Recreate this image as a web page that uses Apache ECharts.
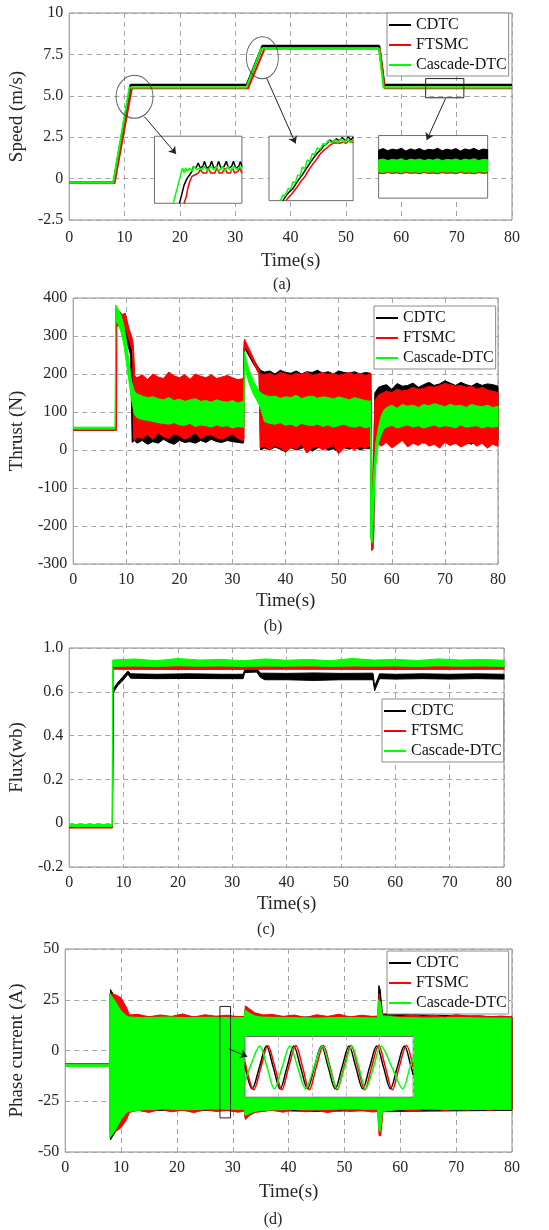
<!DOCTYPE html>
<html><head><meta charset="utf-8">
<script src="https://cdn.jsdelivr.net/npm/echarts@6/dist/echarts.min.js"></script>
<style>html,body{margin:0;padding:0;background:#fff}#c{width:549px;height:1230px}</style>
</head><body><div id="c"></div>
<script>
// ---------------- DATA ----------------
const seriesNames = ['CDTC', 'FTSMC', 'Cascade-DTC'];
const timeTicks = [0, 10, 20, 30, 40, 50, 60, 70, 80];

// (a) speed
const speedTicks = [-2.5, 0, 2.5, 5, 7.5, 10];
const speedTickLabels = ['-2.5', '0', '2.5', '5.0', '7.5', '10'];
const speedT_CDTC = [0, 8.05, 11.1, 32.1, 34.9, 56.0, 56.9, 80];
const speedV_CDTC = [-0.25, -0.25, 5.65, 5.65, 8.0, 8.0, 5.65, 5.65];
const speedT_FTSMC = [0, 8.2, 11.3, 32.3, 35.3, 56.1, 57.0, 80];
const speedV_FTSMC = [-0.26, -0.26, 5.45, 5.45, 7.85, 7.85, 5.45, 5.45];
const speedT_CASC = [0, 7.95, 10.9, 32.0, 34.7, 56.0, 56.8, 80];
const speedV_CASC = [-0.25, -0.25, 5.5, 5.5, 7.85, 7.85, 5.5, 5.5];

// (a) zoom 1 (around t = 11 s)
const in1T_CDTC = [10.80,10.87,10.95,11.05,11.13,11.20,11.25,11.33,11.40,11.47,11.55,11.60,11.67,11.77,11.83,11.90,12.00,12.05,12.13,12.23,12.30,12.37,12.47,12.53,12.60,12.70,12.75,12.80];
const in1V_CDTC = [5.30,5.35,5.41,5.45,5.47,5.49,5.52,5.51,5.54,5.51,5.52,5.55,5.51,5.52,5.55,5.51,5.52,5.55,5.51,5.52,5.55,5.51,5.52,5.55,5.51,5.52,5.55,5.52];
const in1T_FTSMC = [10.95,11.02,11.07,11.13,11.20,11.30,11.40,11.47,11.55,11.67,11.73,11.80,11.93,12.00,12.07,12.17,12.25,12.33,12.43,12.50,12.57,12.67,12.73,12.80];
const in1V_FTSMC = [5.30,5.34,5.39,5.43,5.46,5.47,5.48,5.50,5.48,5.48,5.51,5.48,5.48,5.51,5.48,5.48,5.51,5.48,5.48,5.51,5.48,5.49,5.51,5.48];
const in1T_CASC = [10.60,10.67,10.73,10.80,10.85,10.90,10.95,11.00,11.05,11.13,11.20,11.27,11.35,11.45,11.53,11.60,11.70,11.80,11.90,11.98,12.07,12.17,12.25,12.35,12.45,12.55,12.65,12.73,12.80];
const in1V_CASC = [5.30,5.35,5.39,5.44,5.48,5.51,5.48,5.51,5.49,5.51,5.49,5.52,5.50,5.51,5.50,5.52,5.49,5.52,5.50,5.52,5.49,5.52,5.49,5.52,5.49,5.52,5.50,5.52,5.50];

// (a) zoom 2 (around t = 35 s)
const in2T_CDTC = [34.33,34.42,34.49,34.57,34.64,34.71,34.79,34.86,34.93,35.01,35.08,35.15,35.23,35.30,35.38,35.45,35.52,35.60,35.67,35.74,35.82,35.88,35.95,36.00];
const in2V_CDTC = [7.00,7.09,7.14,7.19,7.26,7.33,7.40,7.47,7.54,7.62,7.68,7.74,7.79,7.85,7.89,7.94,7.91,7.96,7.93,7.98,7.93,7.99,7.94,7.99];
const in2T_FTSMC = [34.40,34.48,34.55,34.63,34.70,34.77,34.85,34.92,34.99,35.07,35.14,35.21,35.30,35.38,35.45,35.52,35.61,35.68,35.76,35.83,35.90,36.00];
const in2V_FTSMC = [7.00,7.06,7.11,7.18,7.24,7.31,7.37,7.45,7.52,7.59,7.65,7.72,7.78,7.82,7.86,7.89,7.90,7.89,7.91,7.89,7.93,7.90];
const in2T_CASC = [34.27,34.33,34.38,34.46,34.51,34.57,34.63,34.68,34.74,34.79,34.85,34.91,34.97,35.03,35.08,35.15,35.21,35.29,35.34,35.41,35.49,35.56,35.63,35.71,35.78,35.85,35.93,36.00];
const in2V_CASC = [7.00,7.09,7.07,7.19,7.17,7.29,7.28,7.40,7.38,7.52,7.49,7.63,7.61,7.73,7.71,7.82,7.79,7.89,7.86,7.94,7.89,7.95,7.90,7.96,7.90,7.96,7.90,7.94];

// (a) zoom 3 (t = 63..69 s), envelopes of the ripple
const in3T = [63,63.25,63.5,63.75,64,64.25,64.5,64.75,65,65.25,65.5,65.75,66,66.25,66.5,66.75,67,67.25,67.5,67.75,68,68.25,68.5,68.75,69];
const in3Hi_CDTC = [5.76,5.775,5.755,5.77,5.762,5.778,5.752,5.772,5.76,5.776,5.755,5.768,5.762,5.778,5.754,5.77,5.76,5.775,5.752,5.772,5.762,5.778,5.756,5.77,5.765];
const in3Lo_CDTC = [5.63,5.622,5.635,5.626,5.632,5.62,5.636,5.625,5.63,5.622,5.634,5.626,5.63,5.62,5.635,5.624,5.632,5.622,5.636,5.626,5.63,5.62,5.634,5.625,5.632];
const in3Hi_FTSMC = [5.6,5.6,5.6,5.6,5.6,5.6,5.6,5.6,5.6,5.6,5.6,5.6,5.6,5.6,5.6,5.6,5.6,5.6,5.6,5.6,5.6,5.6,5.6,5.6,5.6];
const in3Lo_FTSMC = [5.54,5.534,5.545,5.536,5.542,5.533,5.546,5.537,5.541,5.534,5.545,5.536,5.54,5.533,5.544,5.537,5.542,5.534,5.546,5.536,5.54,5.533,5.544,5.537,5.541];
const in3Hi_CASC = [5.668,5.675,5.66,5.672,5.665,5.678,5.658,5.674,5.666,5.676,5.66,5.672,5.664,5.678,5.658,5.672,5.666,5.676,5.66,5.674,5.665,5.678,5.66,5.672,5.668];
const in3Lo_CASC = [5.552,5.546,5.556,5.548,5.554,5.545,5.557,5.549,5.553,5.546,5.556,5.548,5.552,5.545,5.556,5.549,5.554,5.546,5.557,5.548,5.552,5.545,5.555,5.549,5.553];

// (b) thrust envelopes
const thrustT_CDTC = [0,7.95,8.0,9.0,10.0,10.8,11.1,11.5, 12,13,14,15,16,17,18,19,20,21,22,23,24,25,26,27,28,29,30,31,32, 32.1,32.2,33,34,35,35.3, 36,37,38,39,40,41,42,43,44,45,46,47,48,49,50,51,52,53,54,55,56, 56.05,56.3,56.6,56.8,57.5, 58,59,60,61,62,63,64,65,66,67,68,69,70,71,72,73,74,75,76,77,78,79,80];
const thrustLo_CDTC = [52,52,330,325,290,250,20,25, 18,25,15,22,18,28,20,15,25,20,22,18,25,20,28,22,20,25,22,20,18, 20,270,250,225,205,0, 5,0,8,2,-5,6,0,4,10,-3,5,8,0,3,-5,6,2,8,0,5,3, -220,-230,-220,20,20, 18,25,15,22,28,12,20,25,18,22,15,28,20,25,18,22,20,15,25,18,22,20,25];
const thrustHi_CDTC = [56,56,372,360,335,300,240,185, 180,175,185,178,182,176,184,180,178,186,180,176,182,184,180,185,182,188,180,184,182, 180,285,262,236,215,210, 205,208,200,210,204,202,208,200,206,204,210,202,206,200,208,204,202,206,200,204,202, 200,-150,-60,150,165, 168,172,160,175,168,170,176,165,172,178,170,174,182,176,170,178,172,168,176,170,174,172,168];
const thrustT_FTSMC = [0,8.15,8.2,9.0,9.8,10.5,11.2,11.35,11.6, 12,13,14,15,16,17,18,19,20,21,22,23,24,25,26,27,28,29,30,31,32, 32.15,32.25,33,34,35,35.2, 36,37,38,39,40,41,42,43,44,45,46,47,48,49,50,51,52,53,54,55,56, 56.05,56.2,56.5,56.8,57.5, 58,59,60,61,62,63,64,65,66,67,68,69,70,71,72,73,74,75,76,77,78,79,80];
const thrustLo_FTSMC = [52,52,325,330,320,290,260,30,25, 35,30,40,28,45,35,30,42,38,28,35,45,30,38,40,32,28,35,42,30,25, 30,275,258,228,198,5, 10,0,12,5,-5,8,2,15,-8,5,10,0,6,12,-10,5,8,0,10,4,12, -200,-265,-260,10,15, 10,20,5,15,25,8,18,12,22,10,15,5,20,12,18,8,15,22,10,18,5,15,10];
const thrustHi_FTSMC = [56,56,345,355,360,320,290,270,195, 190,198,185,200,192,188,205,195,190,198,186,200,194,190,198,188,192,196,190,185,188, 188,292,270,240,210,200, 198,202,195,204,200,196,202,198,205,196,200,204,198,202,196,200,204,198,202,196,200, 198,-150,-40,130,145, 148,155,150,160,155,158,165,160,162,168,165,170,175,172,168,170,165,168,160,165,158,155,150];
const thrustT_CASC = [0,7.9,8.0,8.5,9.0,9.5,10.0,10.5,11.0,11.5, 12,13,14,15,16,17,18,19,20,21,22,23,24,25,26,27,28,29,30,31,32, 32.15,32.25,33,34,35,35.5, 36,37,38,39,40,41,42,43,44,45,46,47,48,49,50,51,52,53,54,55,56, 56.0,56.3,56.6,57.0,57.5,58,58.5, 59,60,61,62,63,64,65,66,67,68,69,70,71,72,73,74,75,76,77,78,79,80];
const thrustLo_CASC = [55,55,340,330,310,280,230,180,130,95, 85,80,78,75,72,70,68,72,66,65,70,62,66,64,60,66,62,64,58,62,60, 60,225,180,145,120,100, 75,70,68,72,65,68,62,70,66,64,68,62,66,60,64,68,62,60,64,58,62, -230,-245,-150,-40,20,40,55, 60,65,58,62,66,60,64,58,62,66,60,64,62,58,66,60,62,64,58,62,60,62];
const thrustHi_CASC = [60,60,382,370,355,330,290,230,180,155, 148,142,138,140,135,132,138,130,134,128,132,135,128,130,126,132,128,126,130,124,128, 126,258,215,180,155,148, 145,140,142,136,140,138,144,135,140,142,136,140,138,134,140,136,132,138,134,130,128, 130,-130,-60,20,60,90,105, 112,118,110,120,115,118,112,120,116,122,118,114,120,116,118,112,120,116,114,118,112,115];

// (c) flux envelopes (tick labels as printed in the figure)
const fluxTicks = [-0.2, 0, 0.2, 0.4, 0.6, 0.8];
const fluxTickLabels = ['-0.2', '0', '0.2', '0.4', '0.6', '1.0'];
const fluxT_CDTC = [0,7.95,8.1,8.5,9,10,10.8,11.3,16,22,28,32,32.3,34.5,35.2,36,40,45,50,55.9,56.2,56.6,57.1,60,65,70,75,80];
const fluxLo_CDTC = [-0.02,-0.02,0.595,0.612,0.63,0.655,0.68,0.662,0.66,0.661,0.66,0.66,0.688,0.69,0.665,0.655,0.655,0.652,0.655,0.655,0.605,0.63,0.66,0.658,0.66,0.658,0.66,0.658];
const fluxHi_CDTC = [-0.012,-0.012,0.61,0.628,0.645,0.672,0.695,0.682,0.68,0.682,0.68,0.68,0.702,0.706,0.685,0.685,0.684,0.686,0.684,0.685,0.625,0.65,0.682,0.68,0.682,0.68,0.682,0.68];
const fluxT_FTSMC = [0,7.95,8.05,20,40,60,80];
const fluxLo_FTSMC = [-0.022,-0.022,0.703,0.702,0.703,0.702,0.703];
const fluxHi_FTSMC = [-0.012,-0.012,0.716,0.718,0.716,0.718,0.716];
const fluxT_CASC = [0,7.9,8.0,12,16,20,24,28,32,36,40,44,48,52,56,60,64,68,72,76,80];
const fluxLo_CASC = [-0.015,-0.015,0.716,0.718,0.716,0.719,0.717,0.718,0.716,0.718,0.717,0.719,0.716,0.718,0.717,0.718,0.716,0.719,0.717,0.718,0.716];
const fluxHi_CASC = [-0.006,-0.006,0.745,0.75,0.742,0.752,0.745,0.748,0.742,0.75,0.744,0.748,0.742,0.752,0.745,0.748,0.743,0.75,0.745,0.748,0.744];

// (d) phase current envelopes
const curT_CDTC = [0,8.0,8.1,9,10,11,11.5,20,32.1,32.2,34,35,45,56.0,56.15,56.4,56.8,80];
const curLo_CDTC = [-7.5,-7.5,-44,-40,-35,-31,-29.5,-29.5,-29.5,-33,-30,-29.5,-30,-29.5,-36,-38,-30,-29.5];
const curHi_CDTC = [-6.6,-6.6,30,26,21,17.5,16.5,16.5,16.5,20,17.5,16.5,16.5,16.5,32,30,18,16.5];
const curT_FTSMC = [0,7.95,8.0,9,10,11,11.5, 13,15,17,19,21,23,25,27,29,31, 32.1,32.25,33,34,35.5, 37,39,41,43,45,47,49,51,53,55, 56.0,56.2,56.5,56.9, 58,60,62,64,66,68,70,72,74,76,78,80];
const curLo_FTSMC = [-7.5,-7.5,-41,-40,-38,-34,-30.5, -29.5,-30.5,-29,-30.2,-29.4,-30.6,-29.2,-30,-29.6,-30.4, -29.8,-34,-32,-30.5,-30, -29.4,-30.4,-29,-30.2,-29.5,-30.6,-29.2,-30,-29.6,-30.3, -30,-42,-42,-30, -29.5,-29,-30,-29.2,-28.8,-29.6,-29,-29.4,-28.8,-29.5,-29,-29];
const curHi_FTSMC = [-6.5,-6.5,28,27.5,26,21,17.5, 17.8,16.6,17.5,16.8,18,16.5,17.6,16.9,17.4,16.6, 16.8,22,20.5,18.5,17.5, 17.8,16.8,17.5,16.2,17.6,16.8,17.9,16.5,17.4,16.8, 17,28,22,17.5, 17.2,16.6,17.6,16.8,17.4,16.5,17.8,16.9,17.2,16.6,17,16.5];
const curT_CASC = [0,7.9,8.0,8.5,9,10,11,11.5, 14,18,22,26,30, 32.1,32.2,33,34,35, 40,45,50,55.9, 56.1,56.4,56.8, 60,65,70,75,79.8];
const curLo_CASC = [-7.8,-7.8,-43,-41,-39,-34,-30.5,-30, -29.2,-28.8,-29.2,-28.8,-29, -29,-32,-31,-30,-29.5, -29,-29.2,-28.8,-29, -38,-40,-30, -29,-28.8,-29.2,-29,-29];
const curHi_CASC = [-6.8,-6.8,28,26,24,19.5,17,16.5, 16.2,16.5,16.2,16.4,16.2, 16.2,20,18.5,17,16.5, 16.2,16,16.3,16, 25,24,17, 16.2,16,16.3,16,16];

// (d) zoom of the current waveform (t = 27.9..29.4 s)
const in4T_CDTC = [27.900,27.964,28.028,28.091,28.152,28.213,28.274,28.335,28.396,28.457,28.518,28.582,28.643,28.704,28.765,28.828,28.889,28.950,29.011,29.075,29.136,29.197,29.258,29.322,29.383,29.400];
const in4V_CDTC = [-5,-27,-7,13,-7,-27,-7,13,-7,-27,-7,13,-7,-27,-7,13,-7,-27,-7,13,-7,-27,-7,13,-7,-14];
const in4T_FTSMC = [27.900,27.978,28.042,28.103,28.167,28.228,28.289,28.353,28.414,28.474,28.535,28.599,28.660,28.721,28.782,28.846,28.907,28.968,29.029,29.092,29.153,29.214,29.275,29.339,29.400];
const in4V_FTSMC = [-2,-28,-7,13.5,-7,-28,-7,13.5,-7,-28,-7,13.5,-7,-28,-7,13.5,-7,-28,-7,13.5,-7,-28,-7,13.5,-7];
const in4T_CASC = [27.900,27.958,28.031,28.097,28.161,28.231,28.300,28.370,28.440,28.515,28.588,28.654,28.721,28.788,28.852,28.916,28.976,29.046,29.113,29.211,29.307,29.371,29.400];
const in4V_CASC = [-20,-3,13,-7,-27,-7,13,-7,-27,-7,13,-7,-27,-7,13,-7,-27,-7,13,-7,-27,-7,2];

// ---------------- STYLE / LAYOUT ----------------
const COLORS = ['#000000', '#ff0000', '#00ff00'];
const FONT = "'Liberation Serif','Times New Roman',serif";
const TXT = '#262626';
const FRAME = '#8c8c8c';

const zip = (T, V) => T.map((t, i) => [t, V[i]]);

function band(name, color, T, LO, HI, idx, z) {
  const pts = T.map((t, i) => [t, LO[i], HI[i]]);
  return {
    type: 'custom', name: name, xAxisIndex: idx, yAxisIndex: idx, z: z, clip: true, silent: true,
    itemStyle: { color: color }, encode: { x: 0, y: [1, 2] }, data: pts,
    renderItem: function (params, api) {
      if (params.dataIndex !== 0) return null;
      const up = pts.map(p => api.coord([p[0], p[2]]));
      const lo = pts.map(p => api.coord([p[0], p[1]])).reverse();
      return { type: 'polygon', shape: { points: up.concat(lo) },
               style: { fill: color, stroke: color, lineWidth: 1 } };
    }
  };
}
function line(name, color, T, V, idx, z, w, smooth) {
  return { type: 'line', name: name, xAxisIndex: idx, yAxisIndex: idx, z: z, data: zip(T, V),
           showSymbol: false, symbol: 'none', smooth: smooth || false, clip: true, silent: true,
           lineStyle: { color: color, width: w }, itemStyle: { color: color } };
}
function mainGrid(l, t, w, h) {
  return { left: l, top: t, width: w, height: h, show: true, borderColor: FRAME, borderWidth: 1,
           backgroundColor: 'transparent', z: 0 };
}
function insetGrid() {
  return { left: 0, top: 0, width: 10, height: 10, show: true, borderColor: '#6e6e6e', borderWidth: 1,
           backgroundColor: '#ffffff', z: 5 };
}
const dash = { show: true, lineStyle: { type: [5, 4], color: '#a6a6a6', width: 1 } };
function lookupFmt(ticks, labels) {
  return v => { const i = ticks.findIndex(x => Math.abs(x - v) < 1e-6); return i >= 0 ? labels[i] : ''; };
}
function mainX(gi, margin, gap) {
  return { type: 'value', gridIndex: gi, min: timeTicks[0], max: timeTicks[timeTicks.length - 1], interval: 10, z: 1,
           axisLine: { show: false }, axisTick: { show: false }, splitLine: dash,
           axisLabel: { fontFamily: FONT, fontSize: 16, color: TXT, margin: margin, showMinLabel: true, showMaxLabel: true },
           name: 'Time(s)', nameLocation: 'middle', nameGap: gap,
           nameTextStyle: { fontFamily: FONT, fontSize: 19, color: TXT } };
}
function mainY(gi, min, max, step, name, gap, fmt) {
  return { type: 'value', gridIndex: gi, min: min, max: max, interval: step, z: 1,
           axisLine: { show: false }, axisTick: { show: false }, splitLine: dash,
           axisLabel: { fontFamily: FONT, fontSize: 16, color: TXT, margin: 6, formatter: fmt, showMinLabel: true, showMaxLabel: true },
           name: name, nameLocation: 'middle', nameGap: gap, nameRotate: 90,
           nameTextStyle: { fontFamily: FONT, fontSize: 19, color: TXT } };
}
function insetAxis(gi, min, max, split, interval) {
  const a = { type: 'value', gridIndex: gi, min: min, max: max, z: 6, axisLine: { show: false },
              axisTick: { show: false }, axisLabel: { show: false }, splitLine: { show: false } };
  if (split) { a.interval = interval; a.splitLine = { show: true, lineStyle: { type: [4, 3], color: '#c0c0c0', width: 1 } }; }
  return a;
}
function legend(l, t) {
  return { orient: 'vertical', left: l, top: t, itemWidth: 22, itemHeight: 2, itemGap: 4,
           padding: [4, 2, 3, 2], icon: 'rect', borderColor: FRAME, borderWidth: 1, backgroundColor: '#fff',
           selectedMode: false, z: 10,
           textStyle: { fontFamily: FONT, fontSize: 16, color: '#111' },
           data: seriesNames.map((n, i) => ({ name: n, icon: 'rect', itemStyle: { color: COLORS[i] } })) };
}
const ELLIPSE = 'path://M0,-1 A1,1 0 1,1 0,1 A1,1 0 1,1 0,-1 Z';
// inset placement in the data coordinates of the host plot
const insetPlacement = [
  { host: 0, x0: 15.4, y0: 2.56, x1: 31.2, y1: -1.49 },
  { host: 0, x0: 36.1, y0: 2.56, x1: 51.3, y1: -1.33 },
  { host: 0, x0: 55.9, y0: 2.60, x1: 75.6, y1: -1.18 },
  { host: 3, x0: 32.2, y0: 6.9, x1: 62.3, y1: -23 }
];

const grids = [mainGrid(62, 13, 450, 207), mainGrid(68, 298, 430, 266), mainGrid(65, 648, 439, 219), mainGrid(59, 949, 453, 203),
               insetGrid(), insetGrid(), insetGrid(), insetGrid()];

const xAxes = [mainX(0, 10, 32), mainX(1, 8, 28), mainX(2, 8, 28), mainX(3, 8, 31),
               insetAxis(4, 10, 12.8), insetAxis(5, 34, 36), insetAxis(6, 63, 69), insetAxis(7, 27.9, 29.4, true, 0.3)];
const yAxes = [mainY(0, -2.5, 10, 2.5, 'Speed (m/s)', 35, lookupFmt(speedTicks, speedTickLabels)),
               mainY(1, -300, 400, 100, 'Thrust (N)', 42, v => String(v)),
               mainY(2, -0.2, 0.8, 0.2, 'Flux(wb)', 37, lookupFmt(fluxTicks, fluxTickLabels)),
               mainY(3, -50, 50, 25, 'Phase current (A)', 34, v => String(v)),
               insetAxis(4, 5.3, 5.7), insetAxis(5, 7.0, 8.0), insetAxis(6, 5.3, 5.9), insetAxis(7, -35, 22)];

const boxStyle = { color: 'rgba(0,0,0,0)', borderColor: '#222', borderWidth: 1 };
const arrowLine = { color: '#222', width: 1, type: 'solid' };

const series = [
  // (a)
  line('CDTC', COLORS[0], speedT_CDTC, speedV_CDTC, 0, 2, 2.5),
  line('FTSMC', COLORS[1], speedT_FTSMC, speedV_FTSMC, 0, 2, 2),
  line('Cascade-DTC', COLORS[2], speedT_CASC, speedV_CASC, 0, 2, 2),
  line('CDTC', COLORS[0], in1T_CDTC, in1V_CDTC, 4, 7, 1.5),
  line('FTSMC', COLORS[1], in1T_FTSMC, in1V_FTSMC, 4, 7, 1.5),
  line('Cascade-DTC', COLORS[2], in1T_CASC, in1V_CASC, 4, 7, 1.5),
  line('CDTC', COLORS[0], in2T_CDTC, in2V_CDTC, 5, 7, 1.5),
  line('FTSMC', COLORS[1], in2T_FTSMC, in2V_FTSMC, 5, 7, 1.5),
  line('Cascade-DTC', COLORS[2], in2T_CASC, in2V_CASC, 5, 7, 1.5),
  band('CDTC', COLORS[0], in3T, in3Lo_CDTC, in3Hi_CDTC, 6, 7),
  band('FTSMC', COLORS[1], in3T, in3Lo_FTSMC, in3Hi_FTSMC, 6, 7),
  band('Cascade-DTC', COLORS[2], in3T, in3Lo_CASC, in3Hi_CASC, 6, 7),
  // (b)
  band('CDTC', COLORS[0], thrustT_CDTC, thrustLo_CDTC, thrustHi_CDTC, 1, 2),
  band('FTSMC', COLORS[1], thrustT_FTSMC, thrustLo_FTSMC, thrustHi_FTSMC, 1, 2),
  band('Cascade-DTC', COLORS[2], thrustT_CASC, thrustLo_CASC, thrustHi_CASC, 1, 2),
  // (c)
  band('CDTC', COLORS[0], fluxT_CDTC, fluxLo_CDTC, fluxHi_CDTC, 2, 2),
  band('FTSMC', COLORS[1], fluxT_FTSMC, fluxLo_FTSMC, fluxHi_FTSMC, 2, 2),
  band('Cascade-DTC', COLORS[2], fluxT_CASC, fluxLo_CASC, fluxHi_CASC, 2, 2),
  // (d)
  band('CDTC', COLORS[0], curT_CDTC, curLo_CDTC, curHi_CDTC, 3, 2),
  band('FTSMC', COLORS[1], curT_FTSMC, curLo_FTSMC, curHi_FTSMC, 3, 2),
  band('Cascade-DTC', COLORS[2], curT_CASC, curLo_CASC, curHi_CASC, 3, 2),
  line('CDTC', COLORS[0], in4T_CDTC, in4V_CDTC, 7, 7, 1.5, 0.35),
  line('FTSMC', COLORS[1], in4T_FTSMC, in4V_FTSMC, 7, 7, 1.5, 0.35),
  line('Cascade-DTC', COLORS[2], in4T_CASC, in4V_CASC, 7, 7, 1.5, 0.35),
  // annotations (a)
  { type: 'scatter', name: 'ann-a', xAxisIndex: 0, yAxisIndex: 0, z: 8, silent: true,
    symbol: ELLIPSE, itemStyle: { color: 'rgba(0,0,0,0)', borderColor: '#333', borderWidth: 1 },
    data: [{ value: [11.8, 4.94], symbolSize: [37, 43] }, { value: [34.9, 7.3], symbolSize: [32, 42] }],
    markArea: { silent: true, z: 9, itemStyle: boxStyle,
                data: [[{ coord: [64.4, 6.04] }, { coord: [71.3, 4.88] }]] },
    markLine: { silent: true, z: 9, symbol: ['none', 'arrow'], symbolSize: 7, label: { show: false },
                lineStyle: arrowLine,
                data: [[{ coord: [13.6, 3.74] }, { coord: [19.3, 1.49] }],
                       [{ coord: [35.7, 6.04] }, { coord: [40.9, 2.12] }],
                       [{ coord: [68.0, 4.84] }, { coord: [64.6, 2.33] }]] } },
  // annotations (d)
  { type: 'scatter', name: 'ann-d', xAxisIndex: 3, yAxisIndex: 3, z: 8, silent: true, data: [],
    markArea: { silent: true, z: 9, itemStyle: boxStyle,
                data: [[{ coord: [27.7, 21.7] }, { coord: [29.6, -33.2] }]] },
    markLine: { silent: true, z: 9, symbol: ['none', 'arrow'], symbolSize: 7, label: { show: false },
                lineStyle: arrowLine,
                data: [[{ coord: [29.3, 0.8] }, { coord: [32.6, -3.0] }]] } }
];

function caption(text, x, y) {
  return { type: 'text', x: x, y: y, z: 10,
           style: { text: text, font: '16px ' + FONT, fill: TXT, align: 'center', verticalAlign: 'middle',
                    textAlign: 'center', textVerticalAlign: 'middle' } };
}

const option = {
  animation: false,
  backgroundColor: '#ffffff',
  grid: grids, xAxis: xAxes, yAxis: yAxes, series: series,
  legend: [legend(387, 13), legend(374, 306), legend(382, 699), legend(387, 951)],
  graphic: [caption('(a)', 282, 285), caption('(b)', 273, 627), caption('(c)', 266, 930), caption('(d)', 273, 1220)]
};

const chart = echarts.init(document.getElementById('c'), null, { renderer: 'canvas' });
chart.setOption(option);
const placed = grids.map((g, i) => {
  if (i < 4) return g;
  const p = insetPlacement[i - 4];
  const a = chart.convertToPixel({ gridIndex: p.host }, [p.x0, p.y0]);
  const b = chart.convertToPixel({ gridIndex: p.host }, [p.x1, p.y1]);
  return Object.assign({}, g, { left: a[0], top: a[1], width: b[0] - a[0], height: b[1] - a[1] });
});
chart.setOption({ grid: placed });
</script></body></html>
